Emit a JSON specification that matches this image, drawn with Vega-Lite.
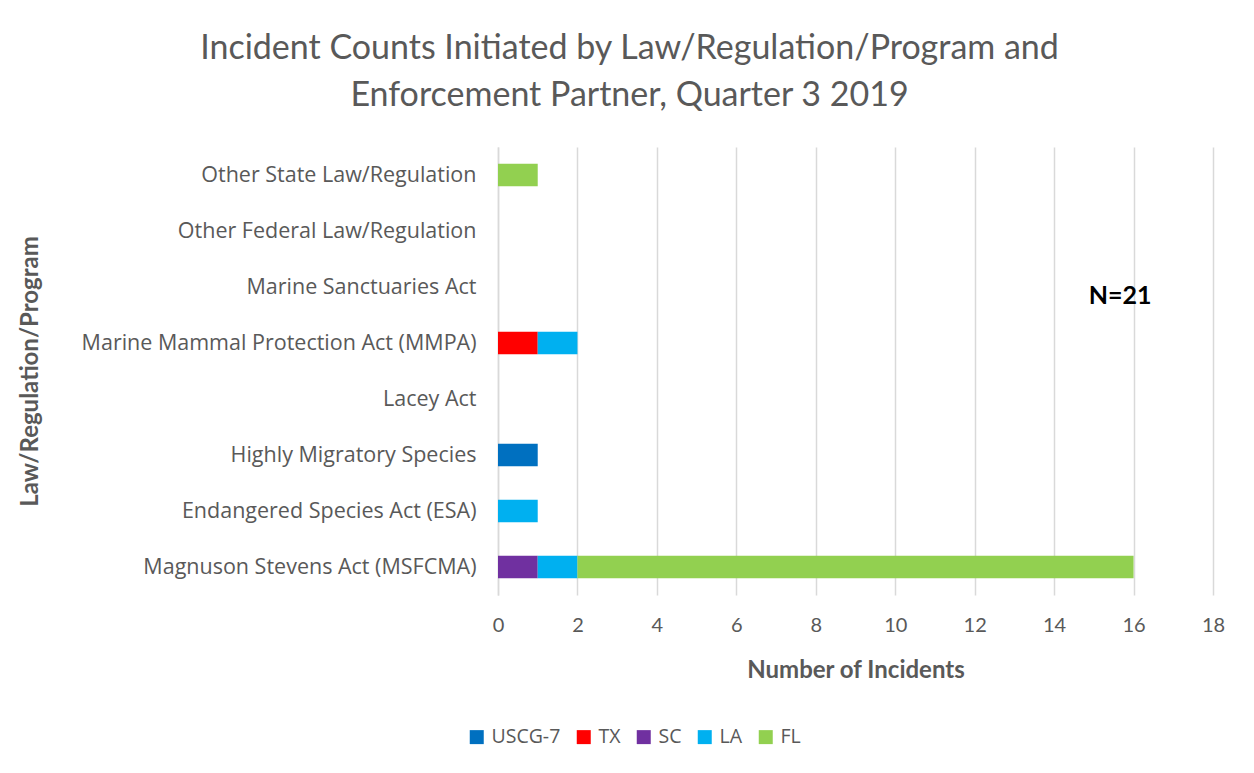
{
  "$schema": "https://vega.github.io/schema/vega-lite/v6.json",
  "autosize": {"type": "none"},
  "width": 715,
  "height": 448,
  "padding": {"left": 498, "top": 147, "right": 41, "bottom": 178},
  "background": "white",
  "title": {
    "text": ["Incident Counts Initiated by Law/Regulation/Program and", "Enforcement Partner, Quarter 3 2019"],
    "font": "Lato",
    "fontSize": 34,
    "fontWeight": "normal",
    "color": "#595959",
    "anchor": "middle",
    "frame": "group",
    "dx": -226,
    "offset": 34,
    "lineHeight": 47
  },
  "config": {
    "view": {"stroke": null},
    "axis": {"labelColor": "#595959", "titleColor": "#595959"}
  },
  "data": {
    "values": [
      {"law": "Other State Law/Regulation", "partner": "FL", "count": 1, "ord": 5},
      {"law": "Marine Mammal Protection Act (MMPA)", "partner": "TX", "count": 1, "ord": 2},
      {"law": "Marine Mammal Protection Act (MMPA)", "partner": "LA", "count": 1, "ord": 4},
      {"law": "Highly Migratory Species", "partner": "USCG-7", "count": 1, "ord": 1},
      {"law": "Endangered Species Act (ESA)", "partner": "LA", "count": 1, "ord": 4},
      {"law": "Magnuson Stevens Act (MSFCMA)", "partner": "SC", "count": 1, "ord": 3},
      {"law": "Magnuson Stevens Act (MSFCMA)", "partner": "LA", "count": 1, "ord": 4},
      {"law": "Magnuson Stevens Act (MSFCMA)", "partner": "FL", "count": 14, "ord": 5}
    ]
  },
  "layer": [
    {
      "mark": {"type": "bar"},
      "encoding": {
        "y": {
          "field": "law",
          "type": "nominal",
          "scale": {
            "domain": ["Other State Law/Regulation", "Other Federal Law/Regulation", "Marine Sanctuaries Act", "Marine Mammal Protection Act (MMPA)", "Lacey Act", "Highly Migratory Species", "Endangered Species Act (ESA)", "Magnuson Stevens Act (MSFCMA)"],
            "paddingInner": 0.6,
            "paddingOuter": 0.3
          },
          "axis": {
            "title": "Law/Regulation/Program",
            "titleFont": "Lato",
            "titleFontSize": 24,
            "titleFontWeight": "bold",
            "titleX": -468,
            "titleY": 224,
            "titleAngle": -90,
            "titleAlign": "center",
            "titleBaseline": "middle",
            "labelFont": "Open Sans",
            "labelFontSize": 21.5,
            "labelPadding": 22,
            "labelLimit": 600,
            "labelOffset": 1,
            "ticks": false,
            "domain": true,
            "domainColor": "#D9D9D9",
            "domainWidth": 1.5
          }
        },
        "x": {
          "field": "count",
          "type": "quantitative",
          "stack": "zero",
          "scale": {"domain": [0, 18], "nice": false},
          "axis": {
            "title": "Number of Incidents",
            "titleFont": "Lato",
            "titleFontSize": 24,
            "titleFontWeight": "bold",
            "titlePadding": 23,
            "values": [0, 2, 4, 6, 8, 10, 12, 14, 16, 18],
            "labelFont": "Lato",
            "labelFontSize": 20,
            "labelPadding": 20,
            "labelFlush": false,
            "ticks": false,
            "domain": false,
            "grid": true,
            "gridColor": "#D9D9D9",
            "gridWidth": 1.5
          }
        },
        "color": {
          "field": "partner",
          "type": "nominal",
          "scale": {
            "domain": ["USCG-7", "TX", "SC", "LA", "FL"],
            "range": ["#0070C0", "#FF0000", "#7030A0", "#00B0F0", "#92D050"]
          },
          "legend": {
            "title": null,
            "orient": "none",
            "direction": "horizontal",
            "legendX": -31,
            "legendY": 580,
            "symbolType": "square",
            "symbolSize": 196,
            "symbolStrokeWidth": 0,
            "labelFont": "Open Sans",
            "labelFontSize": 19.5,
            "labelColor": "#595959",
            "columnPadding": 13,
            "labelOffset": 5
          }
        },
        "order": {"field": "ord", "type": "quantitative"}
      }
    },
    {
      "data": {"values": [{"law": "Marine Sanctuaries Act", "x": 15.66, "label": "N=21"}]},
      "mark": {"type": "text", "font": "Lato", "fontSize": 25, "fontWeight": "bold", "color": "#000000", "align": "center", "baseline": "middle", "dy": 9},
      "encoding": {
        "y": {"field": "law", "type": "nominal"},
        "x": {"field": "x", "type": "quantitative"},
        "text": {"field": "label"}
      }
    }
  ]
}
